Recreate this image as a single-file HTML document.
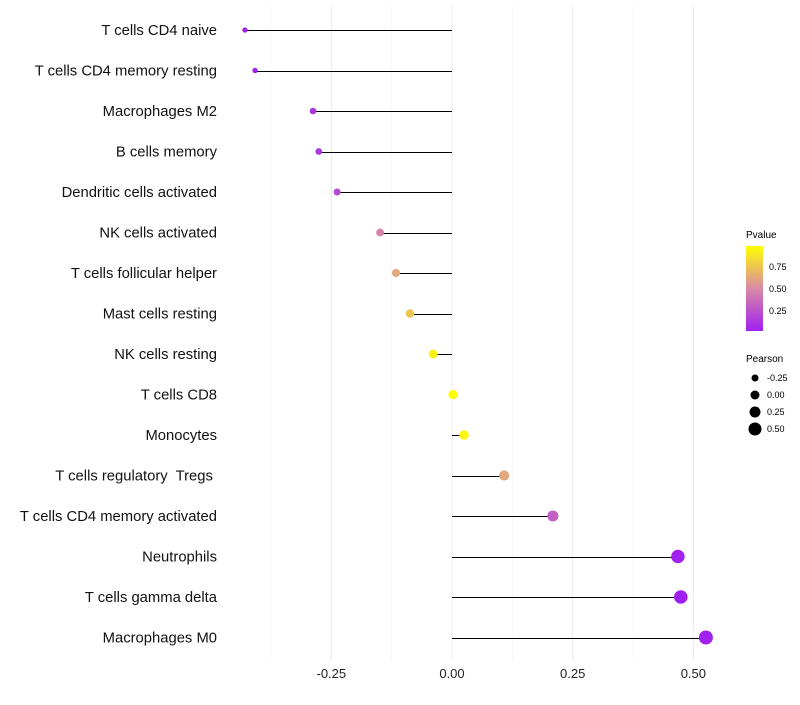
<!DOCTYPE html>
<html><head><meta charset="utf-8"><style>
body{margin:0;background:#fff;font-family:"Liberation Sans",sans-serif}
text{white-space:pre}
</style></head><body>
<svg id="chart" width="800" height="700" xmlns="http://www.w3.org/2000/svg">
<defs><linearGradient id="pg" x1="0" y1="1" x2="0" y2="0">
<stop offset="0" stop-color="#a020f0"/><stop offset="0.5" stop-color="#d98aa6"/><stop offset="1" stop-color="#ffff00"/></linearGradient></defs>
<g id="grid"></g><g id="marks"></g><g id="labels"></g>
<g font-size="9">
<text x="746" y="238" font-size="10">Pvalue</text>
<rect x="746" y="246" width="17" height="85" fill="url(#pg)"/>
<text x="769" y="270">0.75</text><text x="769" y="292">0.50</text><text x="769" y="314">0.25</text>
</g>
<g font-size="9">
<text x="746" y="362" font-size="10">Pearson</text>
<circle cx="755" cy="378" r="3.5"/><text x="767" y="381">-0.25</text>
<circle cx="755" cy="395" r="4.5"/><text x="767" y="398">0.00</text>
<circle cx="755" cy="412" r="5.5"/><text x="767" y="415">0.25</text>
<circle cx="755" cy="429" r="6.5"/><text x="767" y="432">0.50</text>
</g>
</svg>
<script>
const categories=["T cells CD4 naive","T cells CD4 memory resting","Macrophages M2","B cells memory","Dendritic cells activated","NK cells activated","T cells follicular helper","Mast cells resting","NK cells resting","T cells CD8","Monocytes","T cells regulatory  Tregs ","T cells CD4 memory activated","Neutrophils","T cells gamma delta","Macrophages M0"];
const pearson=[-0.429,-0.408,-0.288,-0.276,-0.238,-0.149,-0.116,-0.087,-0.039,0.002,0.025,0.108,0.209,0.468,0.474,0.526];
const pvalue=[0.02,0.03,0.1,0.12,0.2,0.45,0.6,0.72,0.9,1.0,0.92,0.6,0.3,0.03,0.02,0.01];
const xTicks=[-0.25,0,0.25,0.5];
const xTickLabels=["-0.25","0.00","0.25","0.50"];
const ns="http://www.w3.org/2000/svg";
const x=v=>452+v*482.7, y=i=>30+i*40.5;
function col(p){const t=Math.max(0,Math.min(1,(p-0.02)/0.93));
const a=[160,32,240],m=[217,138,166],b=[255,255,0];let c;
if(t<0.5){const s=t*2;c=a.map((v,k)=>v+(m[k]-v)*s);}else{const s=(t-0.5)*2;c=m.map((v,k)=>v+(b[k]-v)*s);}
return`rgb(${c.map(Math.round).join(",")})`;}
function mk(tag,at,par){const e=document.createElementNS(ns,tag);for(const k in at)e.setAttribute(k,at[k]);document.getElementById(par).appendChild(e);return e;}
[-0.375,-0.125,0.125,0.375].forEach(v=>{const l=mk("line",{x1:x(v),x2:x(v),y1:5,y2:660,stroke:"#f3f3f3","stroke-width":0.6},"grid");

});
xTicks.forEach((v,i)=>{const l=mk("line",{x1:x(v),x2:x(v),y1:5,y2:660,stroke:"#ebebeb","stroke-width":1},"grid");


const t=mk("text",{x:x(v),y:678,"text-anchor":"middle","font-size":13,fill:"#222"},"labels");t.textContent=xTickLabels[i];

});
categories.forEach((c,i)=>{
const t=mk("text",{x:217,y:y(i)+5,"text-anchor":"end","font-size":14.8,fill:"#111"},"labels");t.textContent=c;


const l=mk("line",{x1:x(0),x2:x(pearson[i]),y1:Math.round(y(i))+0.5,y2:Math.round(y(i))+0.5,stroke:"#000","stroke-width":1},"marks");


const d=mk("circle",{cx:x(pearson[i]),cy:y(i),r:4.6+pearson[i]*4.6,fill:col(pvalue[i])},"marks");


});
</script>
</body></html>
